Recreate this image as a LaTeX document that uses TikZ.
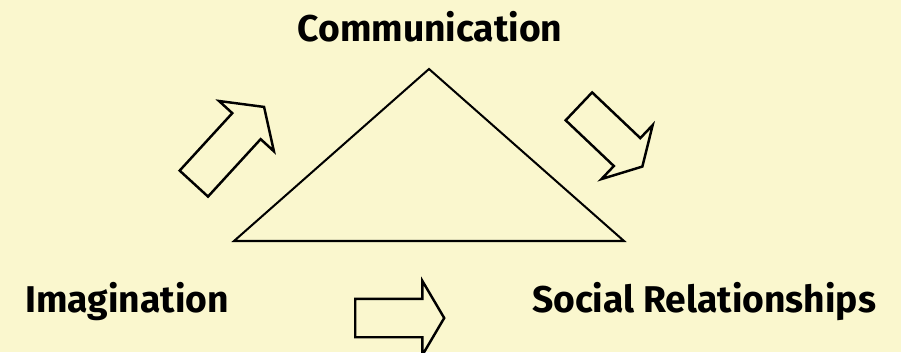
\documentclass[tikz,border=0pt]{standalone}
\usepackage{fontspec}
\setmainfont{Fira Sans}
\usepackage{tikz}
\usetikzlibrary{shapes.arrows}
\definecolor{paper}{RGB}{250,247,206}

\begin{document}
\begin{tikzpicture}[
    x=0.02cm, y=0.02cm,
    every node/.style={align=center}
]
    % Define styles
    \tikzstyle{label} = [font=\fontsize{21.2}{24}\selectfont\bfseries, anchor=base, inner sep=0pt]
    \tikzstyle{bigarrow} = [single arrow, draw=black, line width=1.4pt, fill=paper, inner xsep=0pt, inner ysep=0.36cm, minimum width=1.44cm, single arrow head extend=0.36cm, single arrow head indent=0pt, anchor=tail]
    \tikzstyle{edge} = [draw=black, line width=1.15pt]

    % Background
    \fill [paper] (0,0) rectangle (901,352);
    \useasboundingbox (0,0) rectangle (901,352);

    % Triangle corners
    \coordinate (top) at (429,283);
    \coordinate (left) at (234,111);
    \coordinate (right) at (624,111);
    \draw [edge] (top) -- (left) -- (right) -- cycle;

    % Labels
    \node [label] (communication) at (430,310) {Communication};
    \node [label] (imagination) at (127,40) {Imagination};
    \node [label] (social) at (704,40) {Social Relationships};

    % Block arrows around the triangle
    \node [bigarrow, minimum height=2.08cm, single arrow tip angle=110, rotate=47.5] (upleft) at (193,167.5) {};
    \node [bigarrow, minimum height=1.75cm, single arrow tip angle=121, rotate=-43.5] (downright) at (578,246.5) {};
    \node [bigarrow, minimum height=1.78cm, single arrow tip angle=119] (across) at (354,34) {};

\end{tikzpicture}
\end{document}
